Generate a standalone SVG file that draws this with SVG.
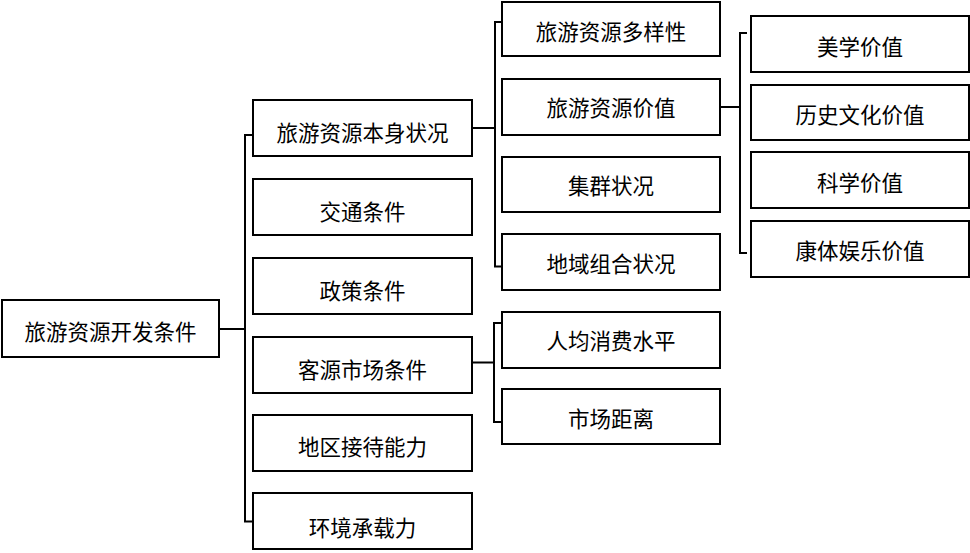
<svg xmlns="http://www.w3.org/2000/svg" width="970" height="553" viewBox="0 0 970 553">
<style>
.box{fill:#fff;stroke:#000;stroke-width:2}
.t{font-family:"Noto Sans CJK SC","Microsoft YaHei",sans-serif;font-size:21.5px;fill:#000;text-anchor:middle}
.c{fill:none;stroke:#000;stroke-width:2}
</style>
<rect width="970" height="553" fill="#fff"/>
<g id="connectors">
<path class="c" d="M219,329 H245 M253,135 H245 V521.5 H253"/>
<path class="c" d="M472,128 H495 M501,22 H495 V266.5 H501"/>
<path class="c" d="M472,362.5 H494 M501,323 H494 V422 H501"/>
<path class="c" d="M720,107 H740 M747,33 H740 V253 H747"/>
</g>
<g id="root"><rect class="box" x="2" y="300" width="217" height="57"/><text class="t" x="110.5" y="340">旅游资源开发条件</text></g>
<g id="n1"><rect class="box" x="253" y="100" width="219" height="56"/><text class="t" x="362.5" y="140.5">旅游资源本身状况</text></g>
<g id="n2"><rect class="box" x="253" y="179" width="219" height="56"/><text class="t" x="362.5" y="219.5">交通条件</text></g>
<g id="n3"><rect class="box" x="253" y="258" width="219" height="56"/><text class="t" x="362.5" y="298.5">政策条件</text></g>
<g id="n4"><rect class="box" x="253" y="337" width="219" height="56"/><text class="t" x="362.5" y="378">客源市场条件</text></g>
<g id="n5"><rect class="box" x="253" y="415" width="219" height="56"/><text class="t" x="362.5" y="455">地区接待能力</text></g>
<g id="n6"><rect class="box" x="253" y="493" width="219" height="56"/><text class="t" x="362.5" y="536">环境承载力</text></g>
<g id="n1a"><rect class="box" x="502" y="2" width="218" height="54"/><text class="t" x="611" y="39.5">旅游资源多样性</text></g>
<g id="n1b"><rect class="box" x="502" y="79" width="218" height="56"/><text class="t" x="611" y="116">旅游资源价值</text></g>
<g id="n1c"><rect class="box" x="502" y="157" width="218" height="55"/><text class="t" x="611" y="194">集群状况</text></g>
<g id="n1d"><rect class="box" x="502" y="234" width="218" height="56"/><text class="t" x="611" y="272">地域组合状况</text></g>
<g id="n4a"><rect class="box" x="502" y="312" width="218" height="56"/><text class="t" x="611" y="349">人均消费水平</text></g>
<g id="n4b"><rect class="box" x="502" y="389" width="218" height="55"/><text class="t" x="611" y="427">市场距离</text></g>
<g id="v1"><rect class="box" x="751" y="16" width="218" height="56"/><text class="t" x="860" y="54.5">美学价值</text></g>
<g id="v2"><rect class="box" x="751" y="85" width="218" height="55"/><text class="t" x="860" y="123">历史文化价值</text></g>
<g id="v3"><rect class="box" x="751" y="152" width="218" height="56"/><text class="t" x="860" y="191">科学价值</text></g>
<g id="v4"><rect class="box" x="751" y="221" width="218" height="56"/><text class="t" x="860" y="259">康体娱乐价值</text></g>
</svg>
